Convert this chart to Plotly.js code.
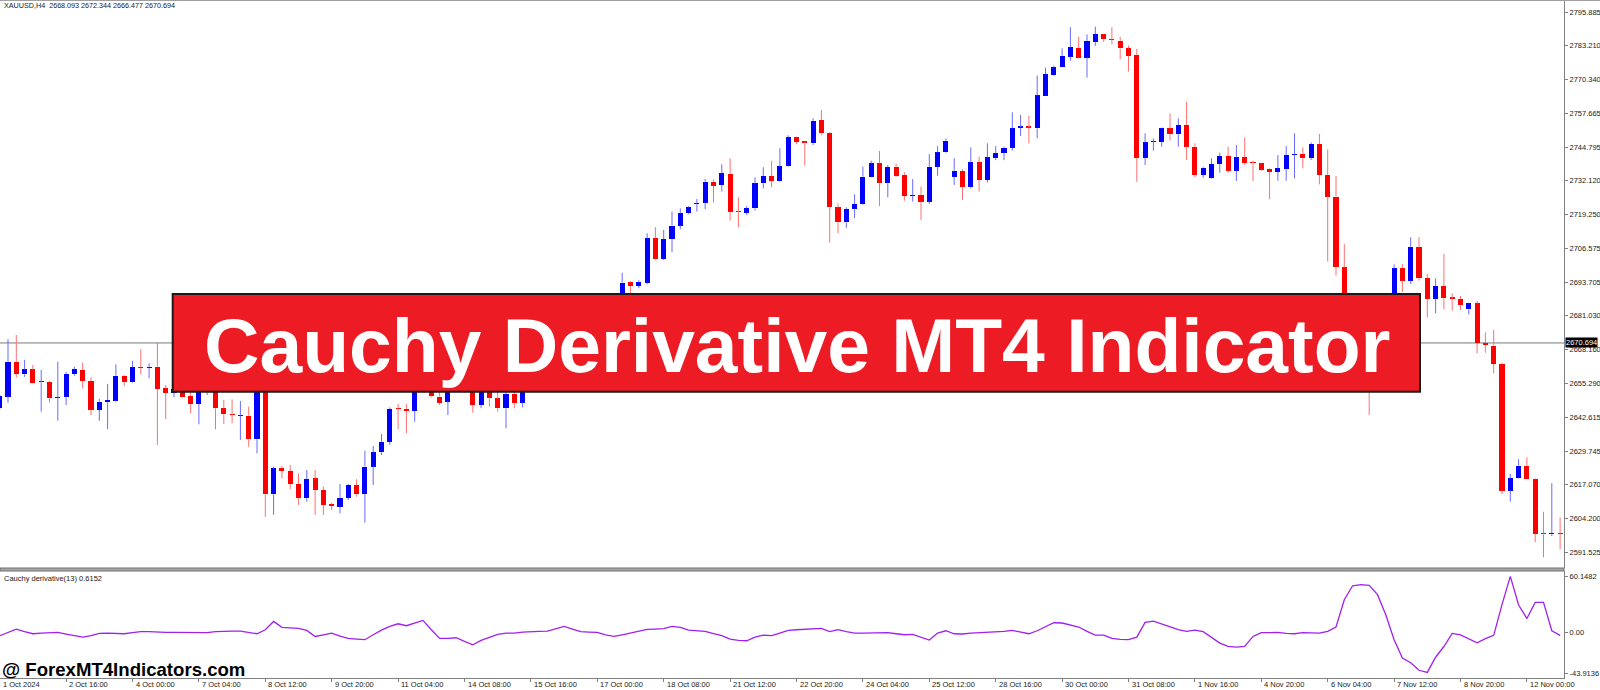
<!DOCTYPE html>
<html>
<head>
<meta charset="utf-8">
<script src="https://cdn.plot.ly/plotly-3.0.1.min.js"></script>
<style>
html,body{margin:0;padding:0;background:#fff;}
#chart{width:1600px;height:690px;}
</style>
</head>
<body>
<div id="chart"></div>
<script>
// ---- DATA (XAUUSD H4) ----
const openP = [
2645.95,2650.4,2663.6,2658.8,2660.7,2655.8,2655.9,2649.8,2650.1,2658.8,
2660.5,2656.3,2645.3,2648.2,2648.9,2658.3,2656.0,2661.5,2661.2,2661.7,
2653.5,2651.9,2653.5,2650.6,2647.6,2652.0,2654.0,2645.95,2643.5,2643.1,
2643.2,2634.2,2652.0,2613.4,2623.2,2622.2,2617.3,2611.9,2619.45,2615.0,
2609.6,2608.7,2612.1,2616.9,2613.4,2623.9,2629.3,2633.3,2645.8,2645.6,
2645.0,2653.0,2656.0,2650.4,2648.5,2653.0,2656.0,2653.0,2647.2,2652.3,
2649.7,2645.95,2651.25,2648.1,2653.0,2656.0,2654.5,2660.0,2663.5,2661.0,
2666.0,2670.0,2668.0,2675.0,2681.0,2687.5,2693.6,2692.25,2693.5,2710.3,
2702.5,2710.0,2715.1,2719.8,2723.3,2723.8,2731.75,2730.5,2734.65,2720.2,
2720.0,2721.65,2731.1,2733.8,2732.1,2737.7,2748.5,2746.6,2746.25,2755.1,
2750.0,2722.0,2716.35,2721.3,2723.2,2733.6,2738.7,2731.1,2737.4,2734.3,
2726.4,2726.7,2724.2,2737.4,2742.8,2733.6,2735.9,2729.85,2739.1,2732.4,
2740.8,2742.5,2744.6,2752.2,2752.4,2751.9,2764.3,2772.1,2775.0,2779.05,
2782.3,2778.7,2784.7,2787.5,2785.5,2785.0,2782.2,2779.7,2740.8,2746.7,
2746.9,2751.9,2749.7,2753.2,2745.0,2734.3,2733.0,2738.4,2741.45,2735.9,
2740.95,2738.8,2738.7,2736.4,2735.5,2736.5,2741.95,2742.2,2740.8,2746.0,
2734.3,2726.1,2699.3,2666.0,2660.0,2665.0,2655.0,2672.0,2686.0,2698.9,
2694.3,2707.1,2695.2,2687.3,2692.25,2687.55,2687.2,2683.4,2685.7,2670.55,
2669.7,2662.7,2614.8,2619.45,2624.25,2619.1,2598.5,2598.3,2598.6
];
const highP = [
2651.0,2672.1,2673.7,2664.3,2662.4,2660.5,2656.3,2663.6,2659.8,2661.7,
2663.2,2657.7,2649.5,2655.2,2662.6,2658.6,2663.9,2668.3,2663.0,2670.8,
2654.8,2655.0,2655.5,2652.5,2653.0,2658.0,2656.0,2649.1,2649.35,2648.7,
2646.6,2653.0,2653.5,2623.9,2624.1,2624.5,2621.3,2622.6,2622.6,2616.3,
2610.2,2617.3,2617.3,2619.1,2629.9,2631.7,2636.2,2646.3,2647.6,2647.6,
2654.0,2659.0,2658.0,2653.0,2655.0,2658.0,2658.0,2655.0,2654.0,2654.0,
2652.3,2653.0,2653.0,2655.0,2658.0,2659.0,2661.5,2665.0,2665.5,2667.5,
2671.0,2672.0,2676.0,2682.0,2688.5,2697.3,2694.1,2694.5,2712.2,2714.5,
2713.45,2720.4,2721.65,2722.5,2725.2,2732.75,2732.6,2738.3,2740.6,2725.8,
2722.5,2733.4,2737.2,2739.6,2744.4,2749.3,2748.8,2746.9,2755.7,2758.9,
2750.5,2723.5,2722.0,2726.95,2737.4,2739.7,2743.35,2738.05,2738.5,2735.3,
2732.75,2729.85,2742.2,2745.2,2748.1,2740.6,2736.5,2744.7,2741.2,2746.25,
2745.2,2745.0,2758.0,2757.0,2756.7,2771.9,2774.9,2775.65,2782.2,2790.2,
2786.6,2787.5,2790.4,2787.6,2790.2,2786.6,2783.2,2782.0,2750.0,2748.1,
2752.2,2757.6,2755.7,2762.0,2746.25,2737.4,2740.6,2742.7,2745.0,2745.6,
2748.4,2739.7,2738.9,2736.8,2741.8,2745.2,2750.0,2744.7,2746.6,2749.8,
2744.0,2733.9,2708.15,2672.0,2668.0,2670.0,2675.0,2688.0,2700.45,2700.6,
2710.7,2710.7,2696.8,2695.15,2704.4,2689.5,2688.5,2685.9,2686.6,2674.7,
2675.6,2663.2,2621.1,2626.65,2627.4,2619.45,2606.8,2617.6,2604.6
];
const lowP = [
2645.5,2648.1,2657.7,2657.9,2655.2,2644.7,2648.1,2641.3,2647.2,2658.2,
2653.5,2643.4,2641.2,2638.1,2648.5,2654.4,2655.7,2658.8,2657.3,2632.1,
2641.9,2650.1,2650.0,2644.1,2639.9,2651.0,2638.0,2640.0,2640.3,2634.0,
2631.4,2628.9,2604.9,2605.6,2619.4,2615.3,2609.4,2610.6,2605.6,2605.6,
2607.5,2606.2,2611.25,2612.5,2602.7,2616.9,2628.3,2632.1,2638.1,2636.5,
2640.9,2652.5,2650.0,2647.2,2643.4,2652.5,2652.0,2644.3,2646.0,2646.6,
2644.7,2638.4,2645.95,2646.3,2652.5,2653.0,2654.0,2658.5,2659.0,2660.0,
2664.5,2666.0,2667.0,2673.5,2679.0,2686.0,2689.5,2691.4,2693.0,2702.2,
2702.1,2705.0,2713.7,2719.4,2720.4,2721.3,2723.8,2728.0,2717.0,2714.5,
2719.1,2720.8,2729.2,2729.6,2731.75,2737.4,2745.9,2737.8,2745.6,2749.4,
2708.65,2712.2,2714.3,2717.9,2722.9,2733.4,2722.5,2725.8,2733.5,2724.55,
2724.2,2717.2,2723.3,2734.0,2742.5,2730.5,2724.8,2729.2,2728.0,2731.4,
2739.9,2739.9,2743.5,2749.0,2746.25,2748.1,2764.2,2771.9,2774.9,2777.5,
2778.4,2771.1,2783.1,2784.7,2783.7,2778.05,2773.4,2731.7,2738.05,2743.5,
2745.0,2747.3,2745.0,2739.9,2733.4,2733.25,2732.75,2735.1,2735.1,2732.0,
2738.05,2732.0,2735.8,2725.05,2732.1,2732.1,2733.0,2736.8,2739.9,2730.7,
2701.5,2696.2,2662.0,2655.0,2652.0,2643.4,2653.0,2670.0,2684.0,2690.0,
2693.0,2694.3,2680.4,2681.9,2683.4,2682.9,2683.2,2681.5,2666.8,2667.0,
2659.2,2613.5,2610.6,2619.3,2619.0,2595.2,2589.55,2597.6,2592.6
];
const closeP = [
2650.6,2663.6,2659.0,2660.7,2655.4,2655.9,2649.7,2650.0,2659.0,2660.7,
2656.3,2645.3,2648.5,2649.1,2658.3,2656.0,2661.5,2661.2,2661.5,2653.3,
2651.9,2653.4,2650.4,2647.6,2652.0,2655.0,2645.95,2643.7,2643.4,2643.2,
2634.2,2652.0,2613.4,2623.2,2622.2,2617.3,2611.9,2619.2,2615.0,2609.4,
2609.0,2612.1,2616.9,2613.4,2623.9,2629.3,2633.3,2645.7,2645.7,2644.9,
2653.0,2657.0,2650.5,2648.1,2653.0,2656.0,2653.0,2647.2,2652.5,2649.7,
2645.95,2651.25,2648.1,2653.0,2656.0,2654.5,2660.0,2663.5,2661.0,2666.0,
2670.0,2668.0,2675.0,2681.0,2687.5,2693.5,2692.25,2693.9,2710.3,2702.5,
2710.0,2715.1,2719.8,2722.0,2723.5,2731.75,2730.2,2734.9,2720.4,2720.1,
2721.8,2731.1,2733.9,2732.0,2737.7,2748.5,2746.8,2746.5,2754.8,2750.0,
2722.0,2716.35,2721.3,2723.2,2733.6,2738.7,2731.1,2737.2,2734.0,2726.3,
2726.5,2724.2,2737.4,2742.8,2747.3,2735.9,2729.85,2739.1,2732.4,2740.95,
2742.5,2744.6,2751.9,2752.4,2752.2,2764.4,2772.4,2775.0,2779.3,2782.6,
2778.7,2785.0,2787.5,2785.6,2785.4,2782.2,2779.4,2740.8,2746.6,2746.9,
2751.9,2749.8,2753.2,2745.0,2734.3,2737.0,2738.4,2741.45,2735.9,2740.95,
2738.7,2738.7,2736.2,2735.5,2736.8,2741.8,2742.1,2740.8,2746.0,2734.3,
2726.1,2699.3,2666.0,2660.0,2665.0,2655.0,2672.0,2686.0,2698.9,2694.3,
2707.1,2695.2,2687.3,2692.25,2687.6,2687.45,2685.1,2685.7,2670.55,2669.9,
2662.7,2614.8,2619.45,2624.25,2619.1,2598.4,2598.3,2598.6,2598.4
];
// blue (up) / red (down) as drawn on the chart
const isUp = openP.map((o, i) => closeP[i] > o);

const cauchy = [
-3.9,-0.4,3.2,0.4,-1.8,-1.1,-0.4,-0.4,-2.1,-3.9,
-5.4,-3.9,-1.4,-1.1,-1.4,-1.8,-0.7,0.4,0.4,-0.4,
-0.4,-0.4,-0.4,-0.7,-1.1,-0.7,0.4,1.1,1.1,1.1,
-0.4,-1.8,2.5,11.4,5.0,4.3,3.9,1.8,-4.7,-2.9,
-1.1,-4.3,-6.8,-7.5,-8.2,-2.9,2.1,6.1,8.9,6.8,
9.7,12.5,2.5,-6.8,-6.8,-6.1,-10.0,-13.6,-8.9,-5.4,
-2.5,-1.1,-1.1,0.0,0.7,0.7,1.1,3.9,6.1,3.2,
0.4,0.0,-0.4,-2.9,-4.7,-2.9,-0.7,1.1,2.9,3.2,
3.6,6.1,5.0,2.1,1.1,0.7,-1.8,-3.9,-7.5,-8.9,
-9.3,-5.4,-3.2,-3.9,-1.1,1.8,2.5,2.9,3.9,3.9,
0.4,2.5,0.4,-1.1,-1.1,-1.1,-0.4,-0.7,-1.8,-2.9,
-2.5,-5.4,-8.6,-1.1,1.4,-1.8,-2.1,-1.1,-0.7,-0.4,
0.0,0.7,1.8,0.4,-1.8,1.4,5.4,10.0,9.7,7.9,
5.4,0.7,-3.2,-3.2,-6.8,-7.9,-8.2,-5.4,10.4,11.8,
8.9,5.7,2.5,0.7,2.1,0.4,-5.4,-11.8,-15.4,-16.1,
-15.4,-4.7,-0.7,-0.4,-0.4,-1.4,-1.8,-0.7,-0.7,-1.1,
0.7,5.4,34.7,49.7,50.8,50.1,40.1,18.6,-8.2,-27.9,
-32.9,-41.0,-43.3,-27.0,-15.5,-1.5,-3.0,-7.0,-11.5,-7.0,
-3.5,29.5,59.7,29.0,14.5,31.8,31.8,1.4,-3.5
];

const tickBars = [0,8,16,24,32,40,48,56,64,72,80,88,96,104,112,120,128,136,144,152,160,168,176,184];
const tickLabels = ['1 Oct 2024','2 Oct 16:00','4 Oct 00:00','7 Oct 04:00','8 Oct 12:00','9 Oct 20:00',
'11 Oct 04:00','14 Oct 08:00','15 Oct 16:00','17 Oct 00:00','18 Oct 08:00','21 Oct 12:00',
'22 Oct 20:00','24 Oct 04:00','25 Oct 12:00','28 Oct 16:00','30 Oct 00:00','31 Oct 08:00',
'1 Nov 16:00','4 Nov 20:00','6 Nov 04:00','7 Nov 12:00','8 Nov 20:00','12 Nov 00:00'];

const priceTicks = [2795.885,2783.210,2770.340,2757.665,2744.795,2732.120,2719.250,2706.575,
2693.705,2681.030,2668.160,2655.290,2642.615,2629.745,2617.070,2604.200,2591.525];
const indTicks = [60.1482, 0, -43.9136];
const indTickText = ['60.1482','0.00','-43.9136'];

const lastPrice = 2670.694;
const headerText = 'XAUUSD,H4  2668.093 2672.344 2666.477 2670.694';
const indLabel = 'Cauchy derivative(13) 0.6152';
const bannerText = 'Cauchy Derivative MT4 Indicator';
const watermark = '@ ForexMT4Indicators.com';

// ---- BUILD TRACES ----
const n = openP.length;
const xs = openP.map((_, i) => i);
const X0 = 0.036, X1 = 188.47;
function wickTrace(up, color) {
  const x = [], y = [];
  for (let i = 0; i < n; i++) {
    if (isUp[i] !== up) continue;
    const top = Math.max(openP[i], closeP[i]);
    const bot = Math.min(openP[i], closeP[i]);
    x.push(i, i, null, i, i, null);
    y.push(highP[i], top, null, bot, lowP[i], null);
  }
  return {type:'scatter', mode:'lines', x, y, xaxis:'x', yaxis:'y',
    line:{color, width:1}, hoverinfo:'skip', showlegend:false, connectgaps:false};
}
const minBody = 0.45;
const bodies = {
  type:'bar', x: xs,
  base: xs.map(i => Math.min(openP[i], closeP[i])),
  y: xs.map(i => Math.max(Math.abs(closeP[i] - openP[i]), minBody)),
  width: 0.62,
  marker:{color: xs.map(i => isUp[i] ? '#0000ff' : '#ff0000'), line:{width:0}},
  xaxis:'x', yaxis:'y', hoverinfo:'skip', showlegend:false
};
const indicator = {
  type:'scatter', mode:'lines', x: xs, y: cauchy, xaxis:'x', yaxis:'y2',
  line:{color:'#a020f0', width:1.3}, hoverinfo:'skip', showlegend:false
};

// ---- LAYOUT ----
const W = 1600, H = 690, PLOTW = 1564;
const py = p => 1 - p / H;       // pixel row -> paper y
const px = p => p / PLOTW;       // pixel col -> paper x
const FONT = 'Liberation Sans, Arial, sans-serif';
const small = {family: FONT, size: 7.5, color: '#1a1a1a'};

const annotations = [];
tickBars.forEach((b, k) => annotations.push({
  x: Math.max(b, X0 + 0.001), xref:'x', y: py(684), yref:'paper', text: tickLabels[k], showarrow:false,
  xanchor:'left', yanchor:'middle', xshift: 1, font: small
}));
annotations.push({x:0, xref:'paper', y: py(6), yref:'paper', text: headerText, showarrow:false,
  xanchor:'left', yanchor:'middle', xshift:2, font:{family: FONT, size: 7.2, color:'#1a1a1a'}});
annotations.push({x:0, xref:'paper', y: py(578), yref:'paper', text: indLabel, showarrow:false,
  xanchor:'left', yanchor:'middle', xshift:2, font: small});
annotations.push({x:1, xref:'paper', y: lastPrice, yref:'y', text: lastPrice.toFixed(3), showarrow:false,
  xanchor:'left', yanchor:'middle', xshift:1, bgcolor:'#000000', borderpad:0,
  font:{family: FONT, size: 7.5, color:'#ffffff'}});
annotations.push({x: px(796.5), xref:'paper', y: py(345), yref:'paper', text: '<b>' + bannerText + '</b>',
  showarrow:false, xanchor:'center', yanchor:'middle',
  font:{family: FONT, size: 76.8, color:'#ffffff'}});
annotations.push({x:0, xref:'paper', y: py(669), yref:'paper', text: '<b>' + watermark + '</b>',
  showarrow:false, xanchor:'left', yanchor:'middle', xshift:0,
  font:{family: FONT, size: 18.6, color:'#000000'}});

const shapes = [
  // current price line
  {type:'line', xref:'paper', yref:'y', x0:0, x1:1, y0:lastPrice, y1:lastPrice,
   line:{color:'#7a7a7a', width:1}, layer:'below'},
  // top border
  {type:'line', xref:'paper', yref:'paper', x0:0, x1: W / PLOTW, y0: py(0.5), y1: py(0.5),
   line:{color:'#a0a0a0', width:1}},
  // separator between panels
  {type:'rect', xref:'paper', yref:'paper', x0:0, x1:1, y0: py(571), y1: py(568),
   fillcolor:'#a8a8a8', line:{color:'#6e6e6e', width:1}},
  // banner
  {type:'rect', xref:'paper', yref:'paper', x0: px(172.7), x1: px(1420), y0: py(391.7), y1: py(294),
   fillcolor:'#ed1c24', line:{color:'#1a1a1a', width:2}, layer:'above'}
];

const layout = {
  width: W, height: H,
  margin:{l:0, r: W - PLOTW, t:0, b:0, pad:0},
  paper_bgcolor:'#ffffff', plot_bgcolor:'#ffffff',
  showlegend:false, bargap:0,
  font:{family: FONT, size: 7.5, color:'#1a1a1a'},
  xaxis:{range:[X0, X1], anchor:'y2', showticklabels:false,
    tickmode:'array', tickvals: tickBars, ticks:'outside', ticklen:3, tickcolor:'#808080',
    showline:true, linecolor:'#808080', linewidth:1, showgrid:false, zeroline:false, fixedrange:true},
  yaxis:{domain:[py(568), py(1)], range:[2585.51, 2800.12], side:'right', anchor:'x',
    tickmode:'array', tickvals: priceTicks, ticktext: priceTicks.map(v => v.toFixed(3)),
    ticks:'outside', ticklen:3, tickcolor:'#808080', tickfont: small,
    showline:true, linecolor:'#808080', linewidth:1, showgrid:false, zeroline:false, fixedrange:true},
  yaxis2:{domain:[py(678), py(571)], range:[-49.28, 65.51], side:'right', anchor:'x',
    tickmode:'array', tickvals: indTicks, ticktext: indTickText,
    ticks:'outside', ticklen:3, tickcolor:'#808080', tickfont: small,
    showline:true, linecolor:'#808080', linewidth:1, showgrid:false, zeroline:false, fixedrange:true},
  shapes, annotations
};

Plotly.newPlot('chart', [wickTrace(true, '#6a6aff'), wickTrace(false, '#ff7070'), bodies, indicator], layout,
  {staticPlot:true, displayModeBar:false});
</script>
</body>
</html>
